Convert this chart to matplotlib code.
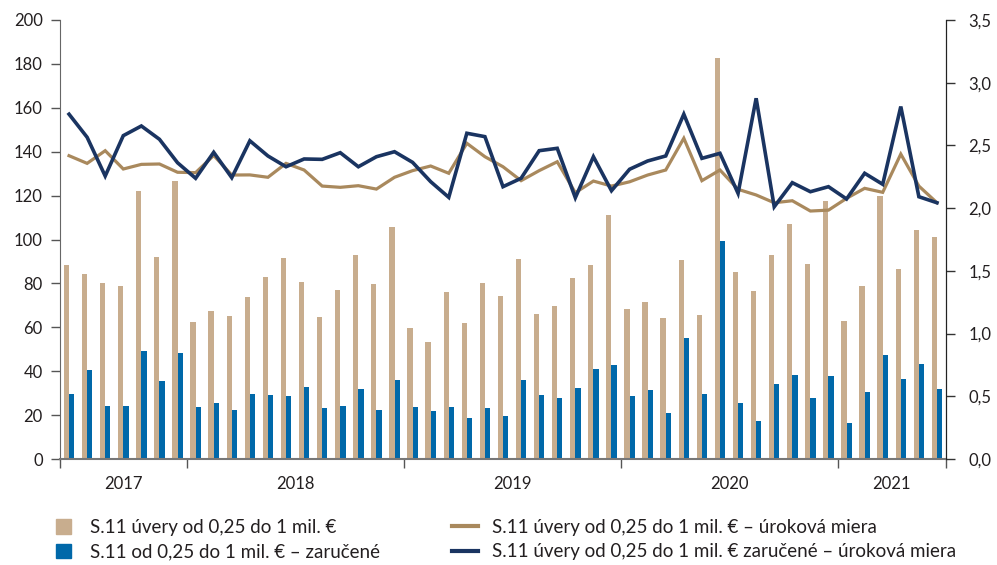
import matplotlib
matplotlib.use("Agg")
import matplotlib.pyplot as plt
from matplotlib.patches import Patch
from matplotlib.lines import Line2D
import numpy as np

plt.rcParams['font.family'] = ['Lato', 'DejaVu Sans']

years = ["2017", "2018", "2019", "2020", "2021"]
months_per_year = [7, 12, 12, 12, 6]

loans = [88.3, 84.2, 80.2, 78.7, 122.2, 91.8, 126.8, 62.6, 67.3, 65.1,
         74.0, 83.0, 91.5, 80.5, 64.7, 77.0, 92.9, 79.6, 105.6, 59.5,
         53.1, 76.3, 62.1, 80.1, 74.1, 91.2, 66.2, 69.6, 82.4, 88.5,
         111.2, 68.2, 71.5, 64.4, 90.8, 65.6, 182.6, 85.4, 76.4, 92.9,
         107.1, 88.8, 117.6, 62.7, 78.6, 120.0, 86.4, 104.3, 101.0]
guaranteed = [29.6, 40.6, 24.3, 24.3, 49.3, 35.6, 48.1, 23.9, 25.6, 22.1,
              29.6, 29.3, 28.7, 32.8, 23.2, 24.1, 31.9, 22.1, 36.0, 23.8,
              22.0, 23.8, 18.9, 23.3, 19.5, 36.0, 29.3, 27.9, 32.3, 41.2,
              42.7, 28.5, 31.4, 21.1, 55.2, 29.7, 99.5, 25.6, 17.1, 34.2,
              38.1, 27.6, 37.8, 16.5, 30.7, 47.5, 36.6, 43.3, 31.9]
rate_loans = [2.418, 2.357, 2.458, 2.312, 2.349, 2.352, 2.286, 2.283, 2.42, 2.264,
              2.265, 2.246, 2.357, 2.304, 2.176, 2.166, 2.179, 2.152, 2.246, 2.299,
              2.336, 2.278, 2.517, 2.410, 2.330, 2.219, 2.299, 2.370, 2.123, 2.216,
              2.176, 2.210, 2.264, 2.304, 2.557, 2.219, 2.304, 2.150, 2.105, 2.043,
              2.059, 1.977, 1.984, 2.078, 2.158, 2.126, 2.431, 2.176, 2.043]
rate_guaranteed = [2.749, 2.565, 2.256, 2.578, 2.655, 2.549, 2.362, 2.238, 2.445, 2.243,
                   2.537, 2.416, 2.330, 2.392, 2.389, 2.442, 2.330, 2.410, 2.450, 2.365,
                   2.211, 2.086, 2.597, 2.570, 2.171, 2.238, 2.458, 2.477, 2.083, 2.410,
                   2.139, 2.310, 2.376, 2.416, 2.749, 2.397, 2.437, 2.118, 2.876, 2.011,
                   2.203, 2.131, 2.171, 2.073, 2.278, 2.190, 2.810, 2.091, 2.043]

labels = ["S.11 úvery od 0,25 do 1 mil. €",
          "S.11 od 0,25 do 1 mil. € – zaručené",
          "S.11 úvery od 0,25 do 1 mil. € – úroková miera",
          "S.11 úvery od 0,25 do 1 mil. € zaručené – úroková miera"]

c_tan = "#C8AD8E"
c_blue = "#0068A9"
c_tanline = "#A9895D"
c_navy = "#1A3461"
c_text = "#231F20"

fig = plt.figure(figsize=(9.97, 5.65), dpi=100)
ax = fig.add_axes([60/997, 1-459/565, (946-60)/997, (459-20)/565])
ax2 = ax.twinx()

x = np.arange(len(loans))
w = 0.29
ax.bar(x - w/2, loans, width=w, color=c_tan, zorder=2)
ax.bar(x + w/2, guaranteed, width=w, color=c_blue, zorder=2)

ax2.plot(x, rate_loans, color=c_tanline, lw=2.3, solid_joinstyle='miter', zorder=3)
ax2.plot(x, rate_guaranteed, color=c_navy, lw=2.6, solid_joinstyle='miter', zorder=4)

ax.set_xlim(-0.44, 48.45)
ax.set_ylim(0, 200)
ax2.set_ylim(0, 3.5)
ax.set_yticks(np.arange(0, 201, 20))
ax2.set_yticks(np.arange(0, 3.51, 0.5))
ax2.set_yticklabels([f"{v:.1f}".replace(".", ",") for v in np.arange(0, 3.51, 0.5)])

bounds = np.concatenate([[0], np.cumsum(months_per_year)]) - 0.5
ax.set_xticks(bounds)
ax.set_xticklabels([])
centers = (bounds[:-1] + bounds[1:]) / 2
ax.set_xticks(centers, minor=True)
ax.set_xticklabels(years, minor=True)
ax.tick_params(axis='x', which='major', length=6.5, width=1, color='#555555', direction='out')
ax.tick_params(axis='x', which='minor', length=0, pad=12, labelsize=12, labelcolor=c_text)
ax.tick_params(axis='y', length=6.5, width=1, color='#555555', pad=6, labelsize=12, labelcolor=c_text)
ax2.tick_params(axis='y', length=6.5, width=1, color='#333333', pad=9.5, labelsize=12, labelcolor=c_text)

for a in (ax, ax2):
    a.spines['top'].set_visible(False)
ax.spines['left'].set_color('#666666')
ax.spines['bottom'].set_color('#777777')
ax.spines['bottom'].set_linewidth(1.5)
ax2.spines['left'].set_visible(False)
ax2.spines['bottom'].set_visible(False)
ax2.spines['right'].set_color('#222222')

h1 = [Patch(color=c_tan), Patch(color=c_blue)]
h2 = [Line2D([], [], color=c_tanline, lw=3), Line2D([], [], color=c_navy, lw=3)]
leg1 = fig.legend(h1, labels[:2], loc='upper left', bbox_to_anchor=(56/997, 1-519/565),
                  frameon=False, fontsize=13.5, handlelength=0.82, handleheight=0.82,
                  handletextpad=1.0, labelspacing=0.4, borderpad=0, borderaxespad=0,
                  labelcolor=c_text)
leg2 = fig.legend(h2, labels[2:], loc='upper left', bbox_to_anchor=(452/997, 1-519/565),
                  frameon=False, fontsize=13.5, handlelength=1.4, handleheight=0.82,
                  handletextpad=0.75, labelspacing=0.4, borderpad=0, borderaxespad=0,
                  labelcolor=c_text)

fig.savefig("out.png", dpi=100)
